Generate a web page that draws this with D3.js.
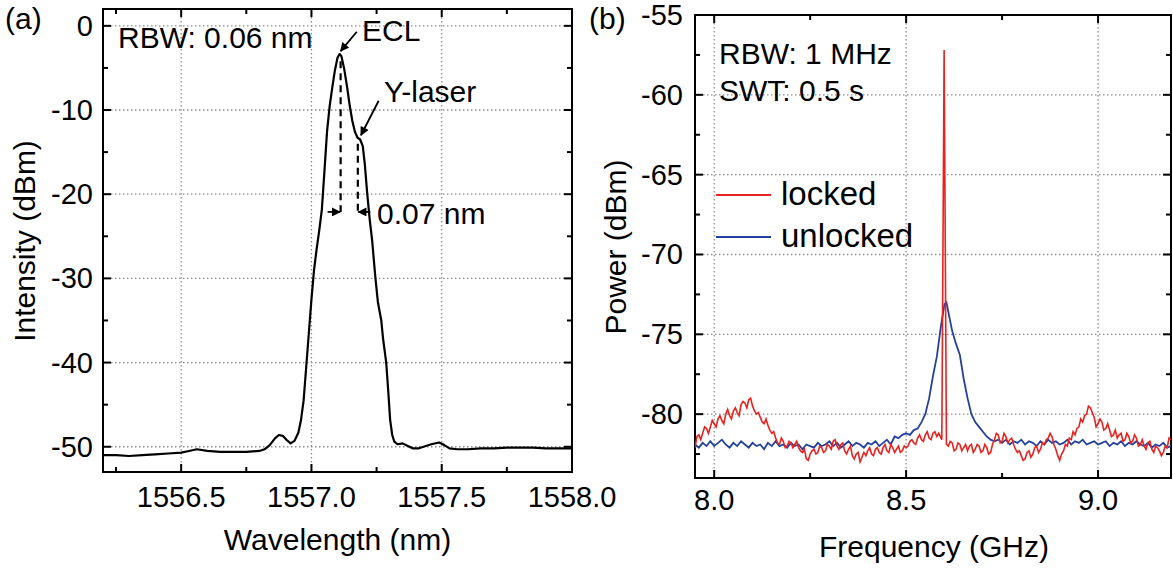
<!DOCTYPE html>
<html>
<head>
<meta charset="utf-8">
<script src="https://cdn.jsdelivr.net/npm/d3@7/dist/d3.min.js"></script>
<style>
  body { margin: 0; background: #fff; }
  svg { font-family: "Liberation Sans", Arial, sans-serif; }
</style>
</head>
<body>
<svg></svg>
<script>
// panel (a): optical spectrum
var wavelength = [1556.20,1556.25,1556.30,1556.35,1556.40,1556.45,1556.50,1556.53,1556.56,1556.60,1556.65,1556.70,1556.75,1556.80,1556.82,1556.84,1556.86,1556.875,1556.89,1556.905,1556.92,1556.935,1556.95,1556.96,1556.97,1556.98,1556.99,1557.00,1557.01,1557.02,1557.03,1557.04,1557.05,1557.06,1557.07,1557.08,1557.09,1557.10,1557.108,1557.115,1557.125,1557.137,1557.147,1557.157,1557.167,1557.177,1557.187,1557.197,1557.205,1557.214,1557.224,1557.233,1557.245,1557.255,1557.262,1557.268,1557.275,1557.287,1557.295,1557.302,1557.31,1557.318,1557.33,1557.35,1557.37,1557.39,1557.41,1557.43,1557.46,1557.49,1557.51,1557.53,1557.56,1557.60,1557.65,1557.70,1557.75,1557.80,1557.85,1557.90,1557.95,1558.00];
var intensity = [-51.0,-51.0,-51.1,-51.0,-50.9,-50.8,-50.7,-50.5,-50.3,-50.5,-50.6,-50.6,-50.6,-50.5,-50.3,-49.8,-49.0,-48.6,-48.7,-49.2,-49.6,-49.3,-48.3,-46.8,-44.5,-40.5,-36.5,-32.5,-29.0,-26.5,-24.3,-21.8,-17.2,-12.5,-9.5,-7.3,-5.3,-3.8,-3.35,-3.6,-5.0,-7.3,-9.5,-11.3,-12.6,-13.3,-13.5,-14.3,-16.5,-19.9,-23.1,-25.5,-29.8,-32.8,-34.0,-35.0,-37.2,-40.0,-43.5,-46.8,-48.6,-49.4,-49.7,-49.6,-49.9,-50.2,-50.2,-50.0,-49.7,-49.5,-49.8,-50.2,-50.3,-50.3,-50.2,-50.2,-50.1,-50.1,-50.1,-50.2,-50.2,-50.2];
var wlMajor = [1556.5, 1557.0, 1557.5, 1558.0];
var wlMinor = [1556.25, 1556.75, 1557.25, 1557.75];
var intMajor = [0, -10, -20, -30, -40, -50];
var intMinor = [-5, -15, -25, -35, -45];

// panel (b): RF beat spectrum, [GHz, dBm]
var unlocked = [[7.95,-81.9],[7.96,-82.1],[7.97,-81.8],[7.98,-82.0],[7.99,-81.7],[8.00,-82.0],[8.01,-81.8],[8.02,-81.6],[8.03,-81.9],[8.04,-82.1],[8.05,-81.8],[8.06,-82.0],[8.07,-81.7],[8.08,-81.9],[8.09,-82.1],[8.10,-81.8],[8.11,-82.0],[8.12,-81.9],[8.13,-82.2],[8.14,-81.8],[8.15,-82.0],[8.16,-81.7],[8.17,-82.0],[8.18,-81.9],[8.19,-82.1],[8.20,-81.8],[8.21,-82.0],[8.22,-81.9],[8.23,-82.2],[8.24,-81.9],[8.25,-82.0],[8.26,-82.1],[8.27,-81.8],[8.28,-82.0],[8.29,-81.9],[8.30,-81.7],[8.31,-82.0],[8.32,-81.8],[8.33,-82.1],[8.34,-81.9],[8.35,-81.7],[8.36,-82.0],[8.37,-81.8],[8.38,-81.9],[8.39,-82.1],[8.40,-81.8],[8.41,-81.9],[8.42,-81.7],[8.43,-82.0],[8.44,-81.8],[8.45,-81.6],[8.46,-81.9],[8.47,-81.4],[8.48,-81.5],[8.49,-81.3],[8.50,-81.2],[8.51,-81.3],[8.52,-81.0],[8.53,-80.9],[8.54,-80.5],[8.55,-80.0],[8.56,-79.0],[8.57,-77.6],[8.58,-76.4],[8.59,-74.6],[8.60,-73.1],[8.605,-73.0],[8.61,-73.6],[8.62,-74.8],[8.63,-75.6],[8.64,-76.3],[8.65,-77.8],[8.66,-79.0],[8.67,-80.0],[8.68,-80.5],[8.69,-80.8],[8.70,-81.1],[8.71,-81.4],[8.72,-81.6],[8.73,-81.7],[8.74,-81.6],[8.75,-81.8],[8.76,-81.6],[8.77,-81.9],[8.78,-81.7],[8.79,-81.8],[8.80,-81.6],[8.81,-81.9],[8.82,-81.7],[8.83,-81.8],[8.84,-82.0],[8.85,-81.7],[8.86,-81.9],[8.87,-81.6],[8.88,-81.8],[8.89,-81.7],[8.90,-81.9],[8.91,-81.8],[8.92,-81.6],[8.93,-81.9],[8.94,-81.7],[8.95,-81.8],[8.96,-81.6],[8.97,-81.9],[8.98,-81.8],[8.99,-81.7],[9.00,-81.9],[9.01,-81.8],[9.02,-81.7],[9.03,-82.0],[9.04,-81.8],[9.05,-81.9],[9.06,-81.7],[9.07,-82.0],[9.08,-81.8],[9.09,-81.9],[9.10,-81.7],[9.11,-81.9],[9.12,-82.0],[9.13,-81.8],[9.14,-82.1],[9.15,-81.9],[9.16,-82.0],[9.17,-81.8],[9.18,-82.1],[9.19,-82.0]];
var locked = [[7.95,-82.1],[7.955,-81.4],[7.96,-81.3],[7.965,-81.6],[7.97,-81.2],[7.975,-80.8],[7.98,-80.9],[7.985,-81.2],[7.99,-80.8],[7.995,-80.4],[8.00,-80.6],[8.005,-80.8],[8.01,-80.3],[8.015,-80.1],[8.02,-80.4],[8.025,-80.6],[8.03,-80.0],[8.035,-79.7],[8.04,-80.1],[8.045,-80.3],[8.05,-79.8],[8.055,-79.6],[8.06,-79.9],[8.065,-80.1],[8.07,-79.4],[8.075,-79.2],[8.08,-79.3],[8.085,-79.6],[8.09,-79.1],[8.095,-79.0],[8.10,-79.5],[8.105,-79.8],[8.11,-80.0],[8.115,-79.9],[8.12,-80.2],[8.125,-80.5],[8.13,-80.6],[8.135,-80.3],[8.14,-80.7],[8.145,-81.0],[8.15,-81.2],[8.155,-81.1],[8.16,-81.5],[8.165,-81.8],[8.17,-81.9],[8.175,-81.5],[8.18,-81.7],[8.185,-82.1],[8.19,-82.0],[8.195,-81.7],[8.20,-81.8],[8.205,-82.1],[8.21,-81.9],[8.215,-81.7],[8.22,-82.1],[8.225,-82.3],[8.23,-82.4],[8.235,-82.2],[8.24,-82.8],[8.245,-82.9],[8.25,-82.5],[8.255,-82.3],[8.26,-82.2],[8.265,-82.5],[8.27,-82.4],[8.275,-82.0],[8.28,-82.1],[8.285,-82.4],[8.29,-82.3],[8.295,-81.9],[8.30,-82.0],[8.305,-82.2],[8.31,-81.7],[8.315,-81.6],[8.32,-82.0],[8.325,-82.2],[8.33,-81.9],[8.335,-81.8],[8.34,-82.3],[8.345,-82.5],[8.35,-82.2],[8.355,-82.0],[8.36,-82.6],[8.365,-82.8],[8.37,-82.5],[8.375,-82.4],[8.38,-83.0],[8.385,-82.7],[8.39,-82.4],[8.395,-82.6],[8.40,-82.3],[8.405,-82.1],[8.41,-82.5],[8.415,-82.6],[8.42,-82.2],[8.425,-82.1],[8.43,-82.4],[8.435,-82.5],[8.44,-82.1],[8.445,-81.9],[8.45,-82.3],[8.455,-82.4],[8.46,-81.9],[8.465,-82.1],[8.47,-82.4],[8.475,-82.2],[8.48,-82.0],[8.485,-82.4],[8.49,-82.3],[8.495,-82.0],[8.50,-82.1],[8.505,-82.0],[8.51,-81.7],[8.515,-81.6],[8.52,-81.8],[8.525,-81.9],[8.53,-81.5],[8.535,-81.3],[8.54,-81.6],[8.545,-81.7],[8.55,-81.3],[8.555,-81.1],[8.56,-81.5],[8.565,-81.6],[8.57,-81.2],[8.575,-81.1],[8.58,-81.4],[8.585,-81.2],[8.593,-81.6],[8.599,-57.2],[8.605,-81.9],[8.61,-82.0],[8.615,-81.7],[8.62,-81.8],[8.625,-82.3],[8.63,-82.2],[8.635,-81.8],[8.64,-81.9],[8.645,-82.3],[8.65,-82.1],[8.655,-81.9],[8.66,-82.3],[8.665,-82.0],[8.67,-81.9],[8.675,-82.4],[8.68,-82.2],[8.685,-81.9],[8.69,-82.0],[8.695,-82.4],[8.70,-82.3],[8.705,-81.9],[8.71,-82.1],[8.715,-82.5],[8.72,-82.4],[8.725,-81.9],[8.73,-81.6],[8.735,-81.2],[8.74,-81.3],[8.745,-81.8],[8.75,-81.7],[8.755,-81.2],[8.76,-81.4],[8.765,-81.8],[8.77,-81.6],[8.775,-81.5],[8.78,-81.9],[8.785,-82.2],[8.79,-82.4],[8.795,-82.3],[8.80,-82.6],[8.805,-82.9],[8.81,-82.8],[8.815,-82.4],[8.82,-82.3],[8.825,-82.7],[8.83,-82.5],[8.835,-82.1],[8.84,-82.0],[8.845,-82.4],[8.85,-82.2],[8.855,-81.8],[8.86,-81.9],[8.865,-81.6],[8.87,-81.5],[8.875,-81.2],[8.88,-81.4],[8.885,-81.9],[8.89,-82.2],[8.895,-82.6],[8.90,-82.9],[8.905,-82.5],[8.91,-82.3],[8.915,-81.9],[8.92,-82.0],[8.925,-81.5],[8.93,-81.6],[8.935,-81.1],[8.94,-81.3],[8.945,-80.9],[8.95,-80.8],[8.955,-80.3],[8.96,-80.5],[8.965,-80.1],[8.97,-80.0],[8.975,-79.5],[8.98,-79.6],[8.985,-79.9],[8.99,-80.2],[8.995,-80.8],[9.00,-80.6],[9.005,-80.3],[9.01,-80.5],[9.015,-81.0],[9.02,-80.9],[9.025,-80.6],[9.03,-81.0],[9.035,-81.4],[9.04,-81.3],[9.045,-81.0],[9.05,-81.5],[9.055,-81.3],[9.06,-81.2],[9.065,-81.7],[9.07,-81.6],[9.075,-81.2],[9.08,-81.4],[9.085,-81.8],[9.09,-81.7],[9.095,-81.3],[9.10,-81.5],[9.105,-82.0],[9.11,-81.9],[9.115,-81.6],[9.12,-82.0],[9.125,-82.2],[9.13,-81.8],[9.135,-81.7],[9.14,-82.2],[9.145,-82.4],[9.15,-82.0],[9.155,-82.1],[9.16,-82.3],[9.165,-82.6],[9.17,-82.4],[9.175,-82.0],[9.18,-82.1],[9.185,-81.5],[9.19,-81.6]];
var freqMajor = [8.0, 8.5, 9.0];
var freqMinor = [8.25, 8.75];
var powMajor = [-55, -60, -65, -70, -75, -80];
var powMinor = [-57.5, -62.5, -67.5, -72.5, -77.5, -82.5];

window.onload = function(){
    var svg = d3.select("svg")
        .attr("width", 1173)
        .attr("height", 572);

    var defs = svg.append("defs");
    defs.append("marker")
        .attr("id", "head")
        .attr("viewBox", "0 0 10 10")
        .attr("refX", 9).attr("refY", 5)
        .attr("markerUnits", "userSpaceOnUse")
        .attr("markerWidth", 11).attr("markerHeight", 9)
        .attr("orient", "auto")
        .append("path").attr("d", "M0,0L10,5L0,10z").attr("fill", "#000");

    var xa = d3.scaleLinear().domain([1556.2, 1558.0]).range([103, 572]);
    var ya = d3.scaleLinear().domain([-53, 2]).range([472, 9]);
    var xb = d3.scaleLinear().domain([7.95, 9.19]).range([695, 1171]);
    var yb = d3.scaleLinear().domain([-84, -55]).range([478, 15]);

    // one entry per panel: scales, tick values, label positions
    var panels = [
        {x: xa, y: ya, xMaj: wlMajor, xMin: wlMinor, yMaj: intMajor, yMin: intMinor, labY: 507, labX: 93},
        {x: xb, y: yb, xMaj: freqMajor, xMin: freqMinor, yMaj: powMajor, yMin: powMinor, labY: 510, labX: 683}
    ];

    panels.forEach(function(p){
        var x = p.x, y = p.y;
        var L = x.range()[0], R = x.range()[1];
        var T = y.range()[1], B = y.range()[0];

        // dotted grid at the major ticks
        var gx = p.xMaj.filter(function(v){ return x(v) > L + 2 && x(v) < R - 2; });
        var gy = p.yMaj.filter(function(v){ return y(v) > T + 2 && y(v) < B - 2; });
        svg.append("g").selectAll("line").data(gx).enter().append("line")
            .attr("x1", function(d){ return x(d); }).attr("x2", function(d){ return x(d); })
            .attr("y1", T).attr("y2", B)
            .attr("stroke", "#8c8c8c").attr("stroke-width", 1.3)
            .attr("stroke-dasharray", "1.5,2.5");
        svg.append("g").selectAll("line").data(gy).enter().append("line")
            .attr("y1", function(d){ return y(d); }).attr("y2", function(d){ return y(d); })
            .attr("x1", L).attr("x2", R)
            .attr("stroke", "#8c8c8c").attr("stroke-width", 1.3)
            .attr("stroke-dasharray", "1.5,2.5");

        // inward ticks on all four sides, major 8 px, minor 5 px
        var xt = p.xMaj.map(function(v){ return [v, 8]; }).concat(p.xMin.map(function(v){ return [v, 5]; }));
        var yt = p.yMaj.map(function(v){ return [v, 8]; }).concat(p.yMin.map(function(v){ return [v, 5]; }));
        svg.append("g").selectAll("line").data(xt).enter().append("line")
            .attr("x1", function(d){ return x(d[0]); }).attr("x2", function(d){ return x(d[0]); })
            .attr("y1", B).attr("y2", function(d){ return B - d[1]; })
            .attr("stroke", "#000").attr("stroke-width", 2);
        svg.append("g").selectAll("line").data(xt).enter().append("line")
            .attr("x1", function(d){ return x(d[0]); }).attr("x2", function(d){ return x(d[0]); })
            .attr("y1", T).attr("y2", function(d){ return T + d[1]; })
            .attr("stroke", "#000").attr("stroke-width", 2);
        svg.append("g").selectAll("line").data(yt).enter().append("line")
            .attr("y1", function(d){ return y(d[0]); }).attr("y2", function(d){ return y(d[0]); })
            .attr("x1", L).attr("x2", function(d){ return L + d[1]; })
            .attr("stroke", "#000").attr("stroke-width", 2);
        svg.append("g").selectAll("line").data(yt).enter().append("line")
            .attr("y1", function(d){ return y(d[0]); }).attr("y2", function(d){ return y(d[0]); })
            .attr("x1", R).attr("x2", function(d){ return R - d[1]; })
            .attr("stroke", "#000").attr("stroke-width", 2);

        svg.append("g").selectAll("text").data(p.xMaj).enter().append("text")
            .attr("x", function(d){ return x(d); }).attr("y", p.labY)
            .attr("text-anchor", "middle").attr("font-size", 29)
            .text(function(d){ return d.toFixed(1); });
        svg.append("g").selectAll("text").data(p.yMaj).enter().append("text")
            .attr("x", p.labX).attr("y", function(d){ return y(d) + 10; })
            .attr("text-anchor", "end").attr("font-size", 29)
            .text(function(d){ return String(d); });

        svg.append("rect")
            .attr("x", L).attr("y", T)
            .attr("width", R - L).attr("height", B - T)
            .attr("fill", "none").attr("stroke", "#000").attr("stroke-width", 2);
    });

    // ---------- (a) curve and notes ----------
    defs.append("clipPath").attr("id", "clipA").append("rect")
        .attr("x", 103).attr("y", 9).attr("width", 469).attr("height", 463);
    var lineA = d3.line()
        .x(function(d, i){ return xa(wavelength[i]); })
        .y(function(d){ return ya(d); });
    svg.append("path").datum(intensity)
        .attr("clip-path", "url(#clipA)")
        .attr("d", lineA)
        .attr("fill", "none").attr("stroke", "#000").attr("stroke-width", 2.2)
        .attr("stroke-linejoin", "round");

    var dashes = [[1557.112, -4.2, -22.1], [1557.178, -14.0, -22.1]];
    svg.append("g").selectAll("line").data(dashes).enter().append("line")
        .attr("x1", function(d){ return xa(d[0]); }).attr("x2", function(d){ return xa(d[0]); })
        .attr("y1", function(d){ return ya(d[1]); }).attr("y2", function(d){ return ya(d[2]); })
        .attr("stroke", "#000").attr("stroke-width", 2.2).attr("stroke-dasharray", "7,5");

    var arrows = [
        [1557.174, -0.7, 1557.112, -3.0],
        [1557.258, -8.9, 1557.19, -13.0],
        [1557.062, -22.1, 1557.110, -22.1],
        [1557.226, -22.1, 1557.180, -22.1]
    ];
    svg.append("g").selectAll("line").data(arrows).enter().append("line")
        .attr("x1", function(d){ return xa(d[0]); })
        .attr("y1", function(d){ return ya(d[1]); })
        .attr("x2", function(d){ return xa(d[2]); })
        .attr("y2", function(d){ return ya(d[3]); })
        .attr("stroke", "#000").attr("stroke-width", 1.8)
        .attr("marker-end", "url(#head)");

    var notes = [
        ["RBW: 0.06 nm", 118, 48],
        ["ECL", 362, 41],
        ["Y-laser", 384, 102],
        ["0.07 nm", 377, 224],
        ["RBW: 1 MHz", 719, 64],
        ["SWT: 0.5 s", 719, 101],
        ["(a)", 5, 29],
        ["(b)", 589, 29]
    ];
    svg.append("g").selectAll("text").data(notes).enter().append("text")
        .attr("x", function(d){ return d[1]; })
        .attr("y", function(d){ return d[2]; })
        .attr("font-size", 30)
        .text(function(d){ return d[0]; });

    svg.append("text").attr("x", 337.5).attr("y", 550)
        .attr("text-anchor", "middle").attr("font-size", 30)
        .text("Wavelength (nm)");
    svg.append("text").attr("transform", "translate(35,241) rotate(-90)")
        .attr("text-anchor", "middle").attr("font-size", 30)
        .text("Intensity (dBm)");

    // ---------- (b) curves and legend ----------
    defs.append("clipPath").attr("id", "clipB").append("rect")
        .attr("x", 695).attr("y", 15).attr("width", 476).attr("height", 463);
    var lineB = d3.line()
        .x(function(d){ return xb(d[0]); })
        .y(function(d){ return yb(d[1]); });
    svg.append("path").datum(unlocked)
        .attr("clip-path", "url(#clipB)")
        .attr("d", lineB).attr("fill", "none")
        .attr("stroke", "#24409a").attr("stroke-width", 1.8);
    svg.append("path").datum(locked)
        .attr("clip-path", "url(#clipB)")
        .attr("d", lineB).attr("fill", "none")
        .attr("stroke", "#e8231f").attr("stroke-width", 1.6);

    var legend = [["locked", "#e8231f", 195], ["unlocked", "#24409a", 237]];
    var lg = svg.append("g").selectAll("g").data(legend).enter().append("g");
    lg.append("line")
        .attr("x1", 716).attr("x2", 771)
        .attr("y1", function(d){ return d[2]; }).attr("y2", function(d){ return d[2]; })
        .attr("stroke", function(d){ return d[1]; }).attr("stroke-width", 2);
    lg.append("text")
        .attr("x", 781).attr("y", function(d){ return d[2] + 10; })
        .attr("font-size", 33)
        .text(function(d){ return d[0]; });

    svg.append("text").attr("x", 934).attr("y", 557)
        .attr("text-anchor", "middle").attr("font-size", 30)
        .text("Frequency (GHz)");
    svg.append("text").attr("transform", "translate(626,247) rotate(-90)")
        .attr("text-anchor", "middle").attr("font-size", 30)
        .text("Power (dBm)");
};
</script>
</body>
</html>
